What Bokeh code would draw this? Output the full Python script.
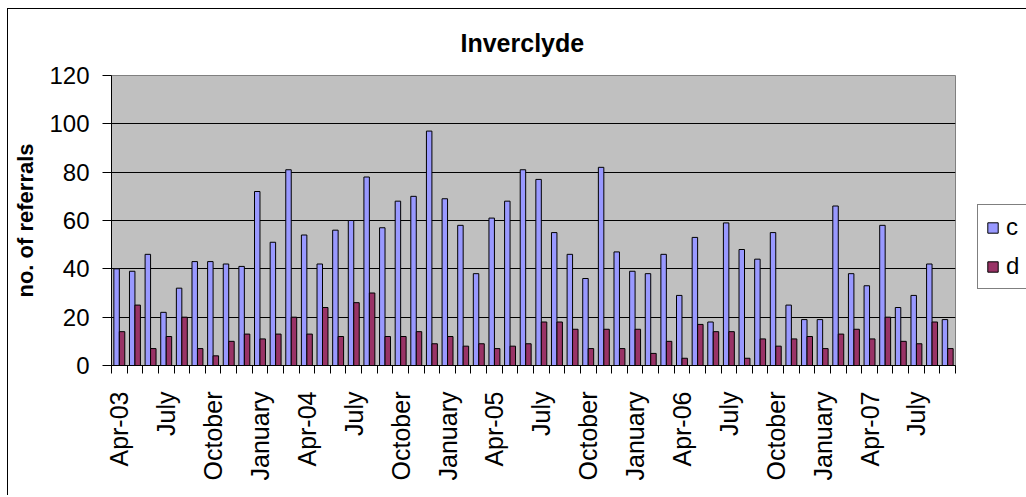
import numpy as np
from bokeh.plotting import figure
from bokeh.models import FixedTicker, Legend, LegendItem, Range1d
from bokeh.embed import file_html
from bokeh.resources import INLINE

months = ["Apr-03", "May", "June", "July", "August", "September", "October", "November", "December",
          "January", "February", "March",
          "Apr-04", "May", "June", "July", "August", "September", "October", "November", "December",
          "January", "February", "March",
          "Apr-05", "May", "June", "July", "August", "September", "October", "November", "December",
          "January", "February", "March",
          "Apr-06", "May", "June", "July", "August", "September", "October", "November", "December",
          "January", "February", "March",
          "Apr-07", "May", "June", "July", "August", "September"]

c_vals = [40, 39, 46, 22, 32, 43, 43, 42, 41, 72, 51, 81,
          54, 42, 56, 60, 78, 57, 68, 70, 97, 69, 58, 38,
          61, 68, 81, 77, 55, 46, 36, 82, 47, 39, 38, 46,
          29, 53, 18, 59, 48, 44, 55, 25, 19, 19, 66, 38,
          33, 58, 24, 29, 42, 19]

d_vals = [14, 25, 7, 12, 20, 7, 4, 10, 13, 11, 13, 20,
          13, 24, 12, 26, 30, 12, 12, 14, 9, 12, 8, 9,
          7, 8, 9, 18, 18, 15, 7, 15, 7, 15, 5, 10,
          3, 17, 14, 14, 3, 11, 8, 11, 12, 7, 13, 15,
          11, 20, 10, 9, 18, 7]

y_ticks = [0, 20, 40, 60, 80, 100, 120]
label_step = 3

FONT = "Liberation Sans"

n = len(months)
idx = np.arange(n)
bar_w = 0.35

p = figure(frame_width=844, frame_height=290,
           min_border_left=111, min_border_right=60, min_border_top=75, min_border_bottom=130,
           x_range=Range1d(-0.5, n - 0.5), y_range=Range1d(0, 120),
           output_backend="svg", toolbar_location=None,
           title="Inverclyde")
# thin chart-area border on the left and top (inset shadows, white band over black band)
p.styles = {"box-shadow": "inset 7px 8px 0 0 white, inset 8px 9px 0 0 black"}

p.background_fill_color = "#C0C0C0"
p.border_fill_color = None
p.outline_line_color = "#808080"

p.title.text_font = FONT
p.title.text_font_size = "25px"
p.title.text_font_style = "bold"
p.title.text_color = "black"
p.title.align = "left"
p.title.offset = 349
p.title.standoff = 37

rc = p.vbar(x=idx - bar_w / 2, top=c_vals, width=bar_w, bottom=0,
            fill_color="#9999FF", line_color="black", line_width=1)
rd = p.vbar(x=idx + bar_w / 2, top=d_vals, width=bar_w, bottom=0,
            fill_color="#993366", line_color="black", line_width=1)

# y axis
p.yaxis.ticker = FixedTicker(ticks=y_ticks)
p.yaxis.axis_label = "no. of referrals"
p.yaxis.axis_label_text_font = FONT
p.yaxis.axis_label_text_font_size = "22px"
p.yaxis.axis_label_text_font_style = "bold"
p.yaxis.axis_label_text_color = "black"
p.yaxis.axis_label_standoff = 8
p.yaxis.major_label_text_font = FONT
p.yaxis.major_label_text_font_size = "24px"
p.yaxis.major_label_text_color = "black"
p.yaxis.major_label_standoff = 13
p.yaxis.major_tick_out = 9
p.yaxis.major_tick_in = 0
p.yaxis.minor_tick_out = 0
p.yaxis.minor_tick_in = 0
p.yaxis.axis_line_color = "black"
p.yaxis.major_tick_line_color = "black"

# x axis
major = [int(i) for i in idx[::label_step]]
p.xaxis.ticker = FixedTicker(ticks=major, minor_ticks=[float(i) - 0.5 for i in range(n + 1)])
p.xaxis.major_label_overrides = {i: months[i] for i in major}
p.xaxis.major_label_orientation = np.pi / 2
p.xaxis.major_label_text_font = FONT
p.xaxis.major_label_text_font_size = "25px"
p.xaxis.major_label_text_color = "black"
p.xaxis.major_label_standoff = 18
p.xaxis.major_tick_out = 0
p.xaxis.major_tick_in = 0
p.xaxis.minor_tick_out = 8
p.xaxis.minor_tick_in = 0
p.xaxis.minor_tick_line_color = "black"
p.xaxis.axis_line_color = "black"

p.xgrid.grid_line_color = None
p.ygrid.grid_line_color = "black"
p.ygrid.grid_line_width = 1

legend = Legend(items=[LegendItem(label="c", renderers=[rc]),
                       LegendItem(label="d", renderers=[rd])],
                location=(22, 76), orientation="vertical")
legend.border_line_color = "black"
legend.border_line_width = 1
legend.background_fill_color = "white"
legend.background_fill_alpha = 1
legend.label_text_font = FONT
legend.label_text_font_size = "24px"
legend.label_text_color = "black"
legend.glyph_width = 13
legend.glyph_height = 13
legend.label_standoff = 7
legend.padding = 8
legend.spacing = 11
legend.margin = 0
p.add_layout(legend, "right")

open("out.html", "w").write(file_html(p, INLINE))
